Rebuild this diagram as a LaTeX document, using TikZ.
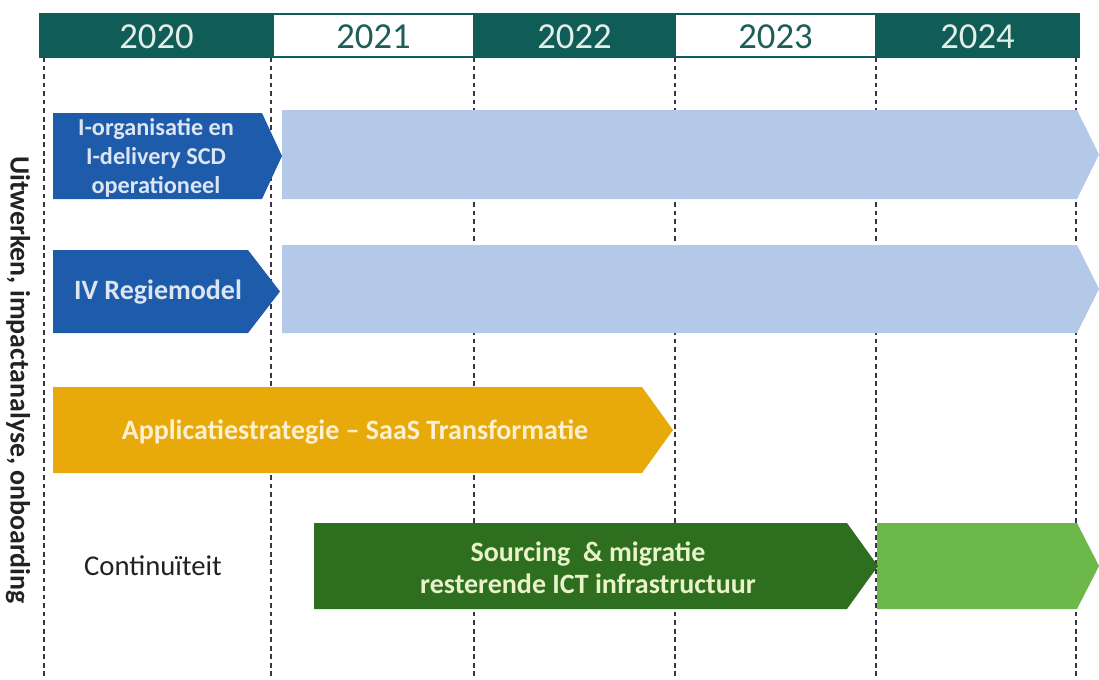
\documentclass[tikz,border=0pt]{standalone}
\usepackage{fontspec}
\setmainfont{Carlito}
\definecolor{teal}{HTML}{0F5D56}
\definecolor{tealtext}{HTML}{1D5F58}
\definecolor{hdrtext}{HTML}{E2EEE8}
\definecolor{gridline}{HTML}{3A3545}
\definecolor{blueA}{HTML}{1E5BAA}
\definecolor{blueL}{HTML}{B4C9E8}
\definecolor{gold}{HTML}{E8A90B}
\definecolor{greenD}{HTML}{2D6E1F}
\definecolor{greenL}{HTML}{6DB84B}
\definecolor{txtBlue}{HTML}{DCE6F2}
\definecolor{txtGold}{HTML}{FCF0D2}
\definecolor{txtGreen}{HTML}{E9F2C9}
\definecolor{ink}{HTML}{222222}
\begin{document}
\begin{tikzpicture}[x=0.75pt,y=-0.75pt,
  yearbox/.style={draw=teal,line width=1.5pt},
  yeardark/.style={yearbox,fill=teal,text=hdrtext},
  yearlight/.style={yearbox,fill=white,text=tealtext},
  yeartext/.style={font=\fontsize{27.5}{32}\selectfont,inner sep=0pt},
  grid/.style={draw=gridline,line width=1.4pt,dash pattern=on 3.6pt off 2.8pt},
  bartext/.style={font=\bfseries\fontsize{21}{24}\selectfont,align=center,inner sep=0pt},
  plain/.style={font=\fontsize{21.5}{25}\selectfont,text=ink,inner sep=0pt}]
\useasboundingbox[fill=white] (0,0) rectangle (1099,679);

% dashed year separators
\foreach \gx in {44,271,474,675,876,1076}
  \draw[grid] (\gx,57) -- (\gx,679);

% year header
\draw[yeardark]  (40,14)  rectangle (273,57);
\draw[yearlight] (273,14) rectangle (474,57);
\draw[yeardark]  (474,14) rectangle (675,57);
\draw[yearlight] (675,14) rectangle (876,57);
\draw[yeardark]  (876,14) rectangle (1079,57);
\node[yeartext,text=hdrtext]  (y2020) at (156.5,37) {2020};
\node[yeartext,text=tealtext] (y2021) at (373.5,37) {2021};
\node[yeartext,text=hdrtext]  (y2022) at (574.5,37) {2022};
\node[yeartext,text=tealtext] (y2023) at (775.5,37) {2023};
\node[yeartext,text=hdrtext]  (y2024) at (977.5,37) {2024};

% row 1
\fill[blueL] (282,110) -- (1077,110) -- (1099,154.5) -- (1077,199) -- (282,199) -- cycle;
\fill[blueA] (53,113) -- (262,113) -- (282,156) -- (262,199) -- (53,199) -- cycle;
\node[bartext,text=txtBlue,font=\bfseries\fontsize{18.2}{22}\selectfont] (iorg) at (156,158) {I-organisatie en\\I-delivery SCD\\operationeel};

% row 2
\fill[blueL] (282,245) -- (1077,245) -- (1099,289) -- (1077,333) -- (282,333) -- cycle;
\fill[blueA] (53,250) -- (248,250) -- (280,291.5) -- (248,333) -- (53,333) -- cycle;
\node[bartext,text=txtBlue] (regie) at (158,292) {IV Regiemodel};

% row 3
\fill[gold] (53,387) -- (642,387) -- (673,430) -- (642,473) -- (53,473) -- cycle;
\node[bartext,text=txtGold] (saas) at (355,432) {Applicatiestrategie -- SaaS Transformatie};

% row 4
\fill[greenL] (877,523) -- (1077,523) -- (1099,566) -- (1077,609) -- (877,609) -- cycle;
\fill[greenD] (314,523) -- (847,523) -- (878,566) -- (847,609) -- (314,609) -- cycle;
\node[bartext,text=txtGreen] (sourcing) at (588,568) {Sourcing\ \ \& migratie\\resterende ICT infrastructuur};
\node[plain] (cont) at (153,566) {Continuïteit};

% side label
\node[font=\bfseries\fontsize{20.9}{24}\selectfont,text=ink,rotate=-90,inner sep=0pt] (side) at (18,380) {Uitwerken, impactanalyse, onboarding};
\end{tikzpicture}
\end{document}
